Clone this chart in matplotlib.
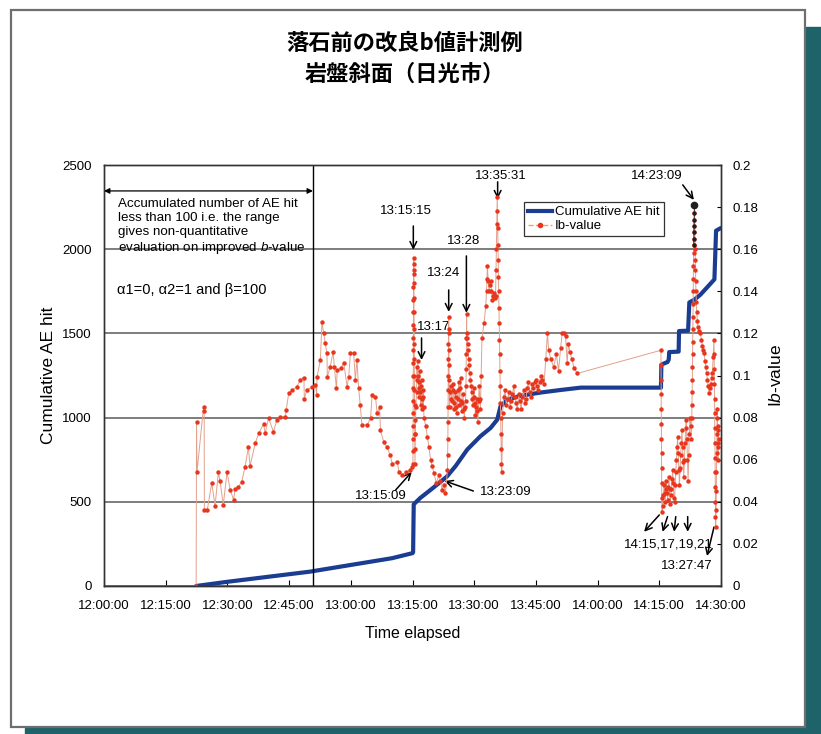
import numpy as np
import matplotlib
matplotlib.use("Agg")
import matplotlib.pyplot as plt
from matplotlib.lines import Line2D
from matplotlib.patches import Rectangle

plt.rcParams['font.family'] = ['Liberation Sans', 'Noto Sans CJK JP', 'DejaVu Sans']
plt.rcParams['mathtext.fontset'] = 'custom'
plt.rcParams['mathtext.rm'] = 'Liberation Sans'
plt.rcParams['mathtext.it'] = 'Liberation Sans:italic'

# times are minutes after 12:00:00
x_ticks = [0, 15, 30, 45, 60, 75, 90, 105, 120, 135, 150]
x_labels = ['12:00:00', '12:15:00', '12:30:00', '12:45:00', '13:00:00', '13:15:00',
            '13:30:00', '13:45:00', '14:00:00', '14:15:00', '14:30:00']
ae_ticks = [0, 500, 1000, 1500, 2000, 2500]
ib_ticks = [0, 0.02, 0.04, 0.06, 0.08, 0.1, 0.12, 0.14, 0.16, 0.18, 0.2]
ib_tick_labels = ['0', '0.02', '0.04', '0.06', '0.08', '0.1', '0.12', '0.14', '0.16', '0.18', '0.2']

# cumulative AE hits
ae_hits = [(22.4, 0), (30, 25), (40, 55), (50, 85), (60, 125), (70, 165), (75.0, 195),
           (75.15, 200), (75.2, 300), (75.25, 400), (75.3, 485), (76.9, 523), (79.4, 571),
           (81.8, 618), (83.4, 651), (85.5, 713), (88.3, 810), (91.5, 889), (94.0, 939),
           (95.6, 988), (96.4, 1067), (98.1, 1107), (101.3, 1130), (106.2, 1149),
           (111.0, 1164), (115.9, 1178), (135.4, 1178), (135.5, 1315), (137.0, 1330),
           (137.3, 1345), (137.4, 1389), (139.7, 1392), (139.8, 1514), (142.0, 1516),
           (142.3, 1684), (143.5, 1700), (145.0, 1730), (146.5, 1770), (148.4, 1821),
           (148.8, 2110), (149.9, 2125)]

# Ib-value, in pieces
ib_early = [(22.4, 0.0), (22.5, 0.078), (22.6, 0.054), (24.2, 0.085), (24.35, 0.083),
            (24.4, 0.036), (25.1, 0.036), (26.2, 0.049), (27.0, 0.038), (27.8, 0.054),
            (28.2, 0.050), (29.0, 0.0385), (29.9, 0.054), (30.7, 0.0456), (31.5, 0.041),
            (31.9, 0.046), (32.6, 0.047), (33.5, 0.0496), (34.3, 0.0567), (35.1, 0.066),
            (35.5, 0.057), (36.8, 0.068), (37.6, 0.0725), (38.8, 0.077), (39.2, 0.0725),
            (40.0, 0.0797), (41.2, 0.0733), (42.0, 0.0789), (42.8, 0.0804), (44.1, 0.0804),
            (44.3, 0.0836), (44.9, 0.0915), (45.7, 0.093), (46.9, 0.0947), (47.7, 0.0979),
            (48.6, 0.099), (48.7, 0.089), (49.3, 0.093), (50.6, 0.0947), (51.4, 0.0955),
            (51.7, 0.0907), (51.8, 0.0994), (52.6, 0.1074), (53.0, 0.1256), (53.4, 0.12),
            (53.8, 0.1153), (54.2, 0.1105), (54.3, 0.0994), (55.0, 0.1042), (55.7, 0.1113),
            (56.0, 0.104), (56.5, 0.0939), (56.7, 0.1026), (57.5, 0.1034), (58.3, 0.1058),
            (59.1, 0.0947), (59.5, 0.0994), (59.9, 0.1105), (60.7, 0.1105), (61.1, 0.0979),
            (61.5, 0.1074), (61.9, 0.094), (62.3, 0.086), (62.7, 0.0765), (64.0, 0.0765),
            (64.8, 0.0797), (65.2, 0.0907), (66.0, 0.0899), (66.4, 0.082), (67.0, 0.085),
            (67.2, 0.074), (68.0, 0.0685), (68.8, 0.066), (69.6, 0.062), (70.1, 0.058),
            (71.3, 0.059), (71.7, 0.054), (72.5, 0.0527), (73.3, 0.054), (74.5, 0.055),
            (74.9, 0.0567)]
ib_1315 = [(75.10, 0.058), (75.11, 0.064), (75.12, 0.070), (75.13, 0.076), (75.14, 0.082),
           (75.15, 0.088), (75.16, 0.094), (75.17, 0.100), (75.18, 0.106), (75.19, 0.112),
           (75.20, 0.118), (75.21, 0.124), (75.22, 0.130), (75.23, 0.136), (75.24, 0.142),
           (75.26, 0.148), (75.28, 0.153), (75.30, 0.156), (75.32, 0.150), (75.34, 0.144),
           (75.36, 0.137), (75.38, 0.130), (75.40, 0.122), (75.42, 0.115), (75.44, 0.108),
           (75.46, 0.100), (75.48, 0.093), (75.50, 0.086), (75.52, 0.079), (75.54, 0.072),
           (75.56, 0.065), (75.60, 0.058), (75.7, 0.072), (75.8, 0.085)]
ib_1317 = [(76.0, 0.092), (76.1, 0.104), (76.2, 0.098), (76.3, 0.107), (76.4, 0.100),
           (76.5, 0.094), (76.6, 0.090), (76.7, 0.097), (76.8, 0.102), (76.9, 0.092),
           (77.0, 0.086), (77.1, 0.095), (77.2, 0.098), (77.3, 0.089), (77.4, 0.084),
           (77.5, 0.090), (77.6, 0.093), (77.7, 0.085), (77.8, 0.080), (78.2, 0.076),
           (78.6, 0.071), (79.0, 0.066), (79.4, 0.060), (79.8, 0.057), (80.2, 0.0535),
           (80.8, 0.049), (81.4, 0.0527), (81.8, 0.050), (82.2, 0.0456), (82.6, 0.048),
           (83.0, 0.044)]
ib_1324 = [(83.5, 0.055), (83.55, 0.062), (83.6, 0.07), (83.62, 0.078), (83.65, 0.085),
           (83.67, 0.093), (83.7, 0.10), (83.72, 0.108), (83.75, 0.115), (83.77, 0.122),
           (83.8, 0.128), (83.83, 0.12), (83.85, 0.112), (83.87, 0.105), (83.9, 0.098),
           (84.0, 0.085), (84.15, 0.092), (84.3, 0.095), (84.45, 0.089), (84.6, 0.088),
           (84.75, 0.093), (84.9, 0.096), (85.05, 0.087), (85.2, 0.084), (85.35, 0.092),
           (85.5, 0.090), (85.65, 0.085), (85.8, 0.082), (85.95, 0.089), (86.1, 0.093),
           (86.25, 0.097), (86.4, 0.086), (86.55, 0.094), (86.7, 0.099), (86.85, 0.088),
           (87.0, 0.083), (87.15, 0.087), (87.3, 0.091), (87.45, 0.084), (87.6, 0.080),
           (87.75, 0.085), (87.9, 0.088)]
ib_1328 = [(88.0, 0.095), (88.05, 0.103), (88.1, 0.11), (88.12, 0.118), (88.15, 0.129),
           (88.2, 0.12), (88.3, 0.118), (88.4, 0.115), (88.5, 0.112), (88.65, 0.108),
           (88.8, 0.105), (88.95, 0.101), (89.1, 0.098), (89.25, 0.095), (89.4, 0.092),
           (89.55, 0.089), (89.7, 0.086), (89.85, 0.090), (90.0, 0.094), (90.15, 0.087),
           (90.3, 0.081), (90.45, 0.085), (90.6, 0.089), (90.75, 0.083), (90.9, 0.078),
           (91.05, 0.088), (91.2, 0.095), (91.35, 0.089), (91.5, 0.084), (91.7, 0.100),
           (91.9, 0.118), (92.4, 0.125), (92.8, 0.133), (93.0, 0.14), (93.1, 0.146),
           (93.2, 0.152), (93.4, 0.145), (93.6, 0.14), (93.8, 0.143), (94.0, 0.145),
           (94.2, 0.140), (94.4, 0.136), (94.6, 0.138), (94.8, 0.139), (95.0, 0.137),
           (95.2, 0.138), (95.3, 0.150), (95.4, 0.16), (95.5, 0.172), (95.6, 0.185),
           (95.66, 0.178), (95.72, 0.17), (95.78, 0.162), (95.84, 0.155), (95.9, 0.147),
           (95.96, 0.14), (96.02, 0.132), (96.08, 0.125), (96.14, 0.117), (96.2, 0.11),
           (96.26, 0.102), (96.32, 0.095), (96.38, 0.087), (96.44, 0.08), (96.5, 0.072),
           (96.56, 0.065), (96.62, 0.058), (96.7, 0.054), (96.9, 0.082)]
ib_1340 = [(97.2, 0.090), (97.5, 0.093), (97.8, 0.086), (98.1, 0.089), (98.4, 0.092),
           (98.7, 0.085), (99.0, 0.088), (99.3, 0.091), (99.6, 0.095), (99.9, 0.090),
           (100.2, 0.087), (100.5, 0.084), (100.8, 0.091), (101.1, 0.088), (101.4, 0.084),
           (101.7, 0.090), (102.0, 0.093), (102.3, 0.087), (102.6, 0.089), (102.9, 0.094),
           (103.2, 0.097), (103.5, 0.092), (103.8, 0.090), (104.1, 0.096), (104.4, 0.094),
           (104.7, 0.097), (105.0, 0.098), (105.3, 0.095), (105.6, 0.093), (105.9, 0.097),
           (106.2, 0.100), (106.6, 0.098), (107.0, 0.096), (107.4, 0.108), (107.8, 0.12),
           (108.1, 0.112), (108.6, 0.108), (109.3, 0.104), (110.0, 0.110), (110.5, 0.102),
           (111.0, 0.113), (111.4, 0.12), (111.8, 0.120), (112.2, 0.119), (112.6, 0.106),
           (112.9, 0.115), (113.3, 0.111), (113.7, 0.108), (114.3, 0.1034), (115.1, 0.101)]
ib_1415 = [(135.4, 0.112), (135.42, 0.105), (135.44, 0.098), (135.46, 0.091), (135.48, 0.084),
           (135.5, 0.077), (135.52, 0.070), (135.54, 0.063), (135.56, 0.056), (135.58, 0.049),
           (135.6, 0.042), (135.65, 0.035), (135.8, 0.038), (136.0, 0.043), (136.15, 0.048),
           (136.3, 0.044), (136.45, 0.040), (136.6, 0.046), (136.75, 0.050), (136.9, 0.044),
           (137.05, 0.041), (137.2, 0.047), (137.35, 0.052), (137.5, 0.046), (137.65, 0.039),
           (137.8, 0.043), (137.95, 0.046), (138.1, 0.051), (138.25, 0.055), (138.4, 0.049),
           (138.55, 0.042), (138.7, 0.040), (138.85, 0.048), (139.0, 0.054), (139.15, 0.060),
           (139.3, 0.066), (139.45, 0.071), (139.6, 0.063), (139.75, 0.055), (139.9, 0.048),
           (140.05, 0.056), (140.2, 0.062), (140.35, 0.068), (140.5, 0.074), (140.65, 0.066),
           (140.8, 0.059), (140.95, 0.052), (141.1, 0.060), (141.25, 0.068), (141.4, 0.075),
           (141.55, 0.079), (141.7, 0.070), (141.85, 0.060), (142.0, 0.050), (142.15, 0.062),
           (142.3, 0.072), (142.45, 0.080), (142.6, 0.076), (142.75, 0.070), (142.9, 0.080),
           (142.95, 0.086), (143.0, 0.092), (143.03, 0.098), (143.06, 0.104), (143.09, 0.110),
           (143.12, 0.116), (143.15, 0.122), (143.18, 0.128), (143.21, 0.134), (143.24, 0.140),
           (143.27, 0.146), (143.3, 0.152), (143.33, 0.158), (143.36, 0.162)]
ib_peak = [(143.38, 0.162), (143.4, 0.165), (143.43, 0.168), (143.46, 0.171),
           (143.49, 0.174), (143.52, 0.177), (143.55, 0.181)]
ib_late = [(143.7, 0.160), (143.75, 0.155), (143.8, 0.15), (143.85, 0.145), (143.9, 0.14),
           (144.0, 0.135), (144.1, 0.13), (144.25, 0.126), (144.4, 0.123), (144.7, 0.121),
           (145.0, 0.12), (145.25, 0.117), (145.5, 0.114), (145.7, 0.112), (145.9, 0.1105),
           (146.1, 0.107), (146.3, 0.104), (146.5, 0.101), (146.7, 0.098), (146.9, 0.095),
           (147.1, 0.0915), (147.3, 0.094), (147.5, 0.096), (147.7, 0.099), (147.9, 0.101),
           (148.1, 0.109), (148.3, 0.117), (148.33, 0.110), (148.36, 0.103), (148.39, 0.096),
           (148.42, 0.089), (148.45, 0.082), (148.48, 0.075), (148.51, 0.068), (148.54, 0.061),
           (148.57, 0.054), (148.6, 0.047), (148.63, 0.040), (148.66, 0.033), (148.7, 0.028),
           (148.8, 0.036), (148.85, 0.045), (148.9, 0.054), (148.95, 0.063), (149.0, 0.072),
           (149.05, 0.080), (149.1, 0.084), (149.15, 0.076), (149.2, 0.068), (149.25, 0.060),
           (149.3, 0.066), (149.35, 0.074), (149.4, 0.070)]

ib_all = ib_early + ib_1315 + ib_1317 + ib_1324 + ib_1328 + ib_1340 + ib_1415 + ib_peak + ib_late
ae_t, ae_v = zip(*ae_hits)
ib_t, ib_v = zip(*ib_all)
pk_t, pk_v = zip(*ib_peak)

W, H = 821, 734
fig = plt.figure(figsize=(W / 100, H / 100), dpi=100)

# page frame and shadow
fig.patches.append(Rectangle((806 / W, 0), 15 / W, (H - 27) / H, transform=fig.transFigure,
                             color='#1f636a', zorder=0))
fig.patches.append(Rectangle((25 / W, 0), (W - 25) / W, 6 / H, transform=fig.transFigure,
                             color='#1f636a', zorder=0))
fig.patches.append(Rectangle((11 / W, 1 - 727 / H), 794 / W, 717 / H, transform=fig.transFigure,
                             fill=False, edgecolor='#6e6e6e', lw=1.6, zorder=0))

fig.text(405 / W, 1 - 43 / H, '落石前の改良b値計測例', ha='center', va='center', fontsize=16,
         fontweight='bold', family=['Noto Sans CJK JP', 'DejaVu Sans'])
fig.text(405 / W, 1 - 74 / H, '岩盤斜面（日光市）', ha='center', va='center', fontsize=16,
         fontweight='bold', family=['Noto Sans CJK JP', 'DejaVu Sans'])

ax1 = fig.add_axes([104 / W, 1 - 586 / H, 617 / W, 421 / H])
ax2 = ax1.twinx()

ax1.plot(ae_t, ae_v, color='#1b3d91', lw=3, solid_capstyle='round', solid_joinstyle='round')
ax1.set_xlim(0, 150)
ax1.set_ylim(0, 2500)
ax1.set_xticks(x_ticks)
ax1.set_xticklabels(x_labels)
ax1.set_yticks(ae_ticks)
ax1.yaxis.grid(True, color='#5a5a5a', lw=1.1)
ax1.tick_params(axis='y', length=0, pad=9, labelsize=9.5)
ax1.tick_params(axis='x', direction='in', length=4, pad=10, labelsize=9.5)
ax1.axvline(50.8, color='black', lw=1)
ax1.set_xlabel('Time elapsed', fontsize=11.5, labelpad=10)
ax1.set_ylabel('Cumulative AE hit', fontsize=12.5, labelpad=4)

ax2.plot(ib_t, ib_v, color='#e2a08c', lw=0.7, marker='o', ms=3.2, mfc='#e8361e',
         mec='#e8361e', mew=0)
ax2.plot(pk_t, pk_v, color='#333333', lw=0.7, marker='o', ms=2, mfc='#202020', mec='#202020')
ax2.plot(pk_t[-1:], pk_v[-1:], ls='none', marker='o', ms=4.5, mfc='#202020', mec='#202020')
ax2.set_ylim(0, 0.2)
ax2.set_yticks(ib_ticks)
ax2.set_yticklabels(ib_tick_labels)
ax2.tick_params(axis='y', direction='in', length=3, pad=8, labelsize=9.5)
ax2.set_ylabel('I$\\it{b}$-value', fontsize=12.5, labelpad=7)
for ax in (ax1, ax2):
    for s in ax.spines.values():
        s.set_color('#333333')
        s.set_linewidth(1)

# range of few hits
ax1.annotate('', xy=(0, 2346), xytext=(50.8, 2346),
             arrowprops=dict(arrowstyle='<|-|>', color='black', lw=0.9, mutation_scale=8,
                             shrinkA=0, shrinkB=0))
ax1.text(3.4, 2302, 'Accumulated number of AE hit\nless than 100 i.e. the range\n'
         'gives non-quantitative\nevaluation on improved $\\it{b}$-value',
         fontsize=9.6, va='top', ha='left', linespacing=1.18)
ax1.text(3.2, 1758, 'α1=0, α2=1 and β=100', fontsize=10.5, va='center', ha='left')

arrow = dict(arrowstyle='->', color='black', lw=1.1, mutation_scale=12, shrinkA=0, shrinkB=0)
notes = [
    ('13:15:15', (73.3, 2228), (75.2, 2138), (75.2, 1996)),
    ('13:35:31', (96.4, 2435), (95.7, 2400), (95.7, 2299)),
    ('13:28', (87.4, 2049), (88.1, 1960), (88.1, 1622)),
    ('13:24', (82.5, 1859), (83.8, 1758), (83.8, 1628)),
    ('13:17', (80.1, 1538), (77.2, 1473), (77.2, 1342)),
    ('13:15:09', (67.4, 535), (70.9, 570), (74.8, 677)),
    ('13:23:09', (97.6, 558), (89.8, 564), (82.8, 624)),
    ('14:23:09', (134.4, 2435), (140.7, 2382), (143.4, 2293)),
    ('13:27:47', (141.7, 119), (148.3, 350), (146.6, 178)),
]
for label, txt_xy, tail, head in notes:
    ax1.text(*txt_xy, label, fontsize=9.5, ha='center', va='center')
    ax1.annotate('', xy=head, xytext=tail, arrowprops=arrow)

ax1.text(137.3, 249, '14:15,17,19,21', fontsize=9.5, ha='center', va='center')
for tail, head in [((135.0, 422), (131.3, 322)), ((137.0, 412), (135.8, 322)),
                   ((139.0, 412), (138.6, 322)), ((141.9, 412), (141.9, 322))]:
    ax1.annotate('', xy=head, xytext=tail, arrowprops=arrow)

h_ae = Line2D([], [], color='#1b3d91', lw=3)
h_ib = Line2D([], [], color='#f0a070', lw=1, ls='--', marker='o', ms=3,
              mfc='#e8361e', mec='#e8361e')
leg = ax2.legend([h_ae, h_ib], ['Cumulative AE hit', 'Ib-value'], loc='upper left',
                 bbox_to_anchor=(0.681, 0.912), fontsize=9.5, fancybox=False,
                 edgecolor='#333333', framealpha=1, borderpad=0.3, labelspacing=0.15,
                 handlelength=1.8, handletextpad=0.25, borderaxespad=0)
leg.get_frame().set_linewidth(0.9)

fig.savefig('out.png', dpi=100)
